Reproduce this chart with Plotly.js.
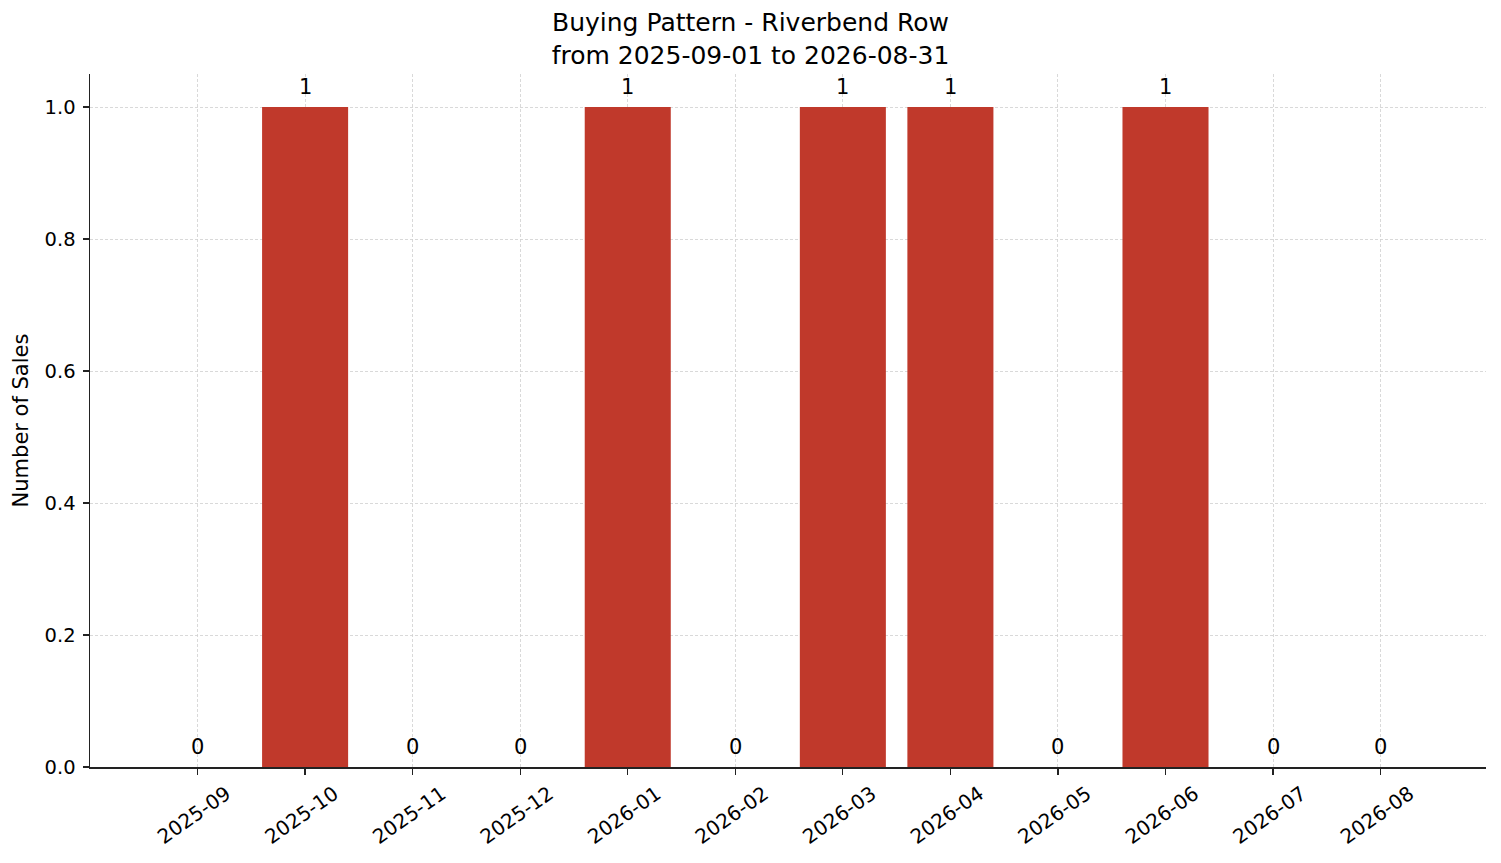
<!DOCTYPE html>
<html>
<head>
<meta charset="utf-8">
<script src="https://cdn.plot.ly/plotly-3.0.1.min.js"></script>
<style>html,body{margin:0;padding:0;background:#fff;}#chart{width:1501px;height:863px;}</style>
</head>
<body>
<div id="chart"></div>
<script>
const months = ["2025-09","2025-10","2025-11","2025-12","2026-01","2026-02","2026-03","2026-04","2026-05","2026-06","2026-07","2026-08"];
const sales = [0,1,0,0,1,0,1,1,0,1,0,0];
const titleText = "Buying Pattern - Riverbend Row<br>from 2025-09-01 to 2026-08-31";
const yTitle = "Number of Sales";
const yTicks = [0,0.2,0.4,0.6,0.8,1.0];
const yTickLabels = ["0.0","0.2","0.4","0.6","0.8","1.0"];

const font = "DejaVu Sans, sans-serif";
const bars = {
  type: "bar", x: months, y: sales, width: 0.8,
  marker: {color: "#C0392B", line: {width: 0}},
  hoverinfo: "skip", showlegend: false
};
const valueLabels = months.map((m, i) => ({
  x: m, y: sales[i], xref: "x", yref: "y",
  text: String(sales[i]), showarrow: false,
  xanchor: "center", yanchor: "bottom", yshift: 6,
  font: {family: font, size: 21, color: "#000"}
}));
const layout = {
  width: 1501, height: 863,
  margin: {l: 90, r: 15, t: 74, b: 96},
  paper_bgcolor: "#fff", plot_bgcolor: "#fff",
  font: {family: font, size: 19.5, color: "#000"},
  title: {text: titleText, x: 0.5, xanchor: "center", y: 0.9637, yanchor: "middle", font: {family: font, size: 25, color: "#000"}},
  xaxis: {
    type: "category", categoryorder: "array", categoryarray: months,
    range: [-1, 11.98],
    tickangle: -35, ticklabelshift: 29, ticklabelstandoff: 0,
    showline: true, linecolor: "#222", linewidth: 1.5,
    ticks: "outside", ticklen: 6, tickwidth: 1.3, tickcolor: "#222",
    showgrid: true, gridcolor: "#d0d0d0", gridwidth: 0.8, griddash: "3px,2px",
    tickfont: {family: font, size: 20, color: "#000"},
    layer: "above traces", zeroline: false, fixedrange: true
  },
  yaxis: {
    range: [0, 1.05], tickvals: yTicks, ticktext: yTickLabels,
    showline: true, linecolor: "#222", linewidth: 1.5,
    ticks: "outside", ticklen: 6, tickwidth: 1.3, tickcolor: "#222",
    ticklabelstandoff: 3,
    showgrid: true, gridcolor: "#d0d0d0", gridwidth: 0.8, griddash: "3px,2px",
    tickfont: {family: font, size: 19.5, color: "#000"},
    title: {text: yTitle, font: {family: font, size: 21, color: "#000"}, standoff: 10},
    layer: "above traces", zeroline: false, fixedrange: true
  },
  annotations: valueLabels,
  bargap: 0.2
};
Plotly.newPlot("chart", [bars], layout, {staticPlot: true, displayModeBar: false});
</script>
</body>
</html>
